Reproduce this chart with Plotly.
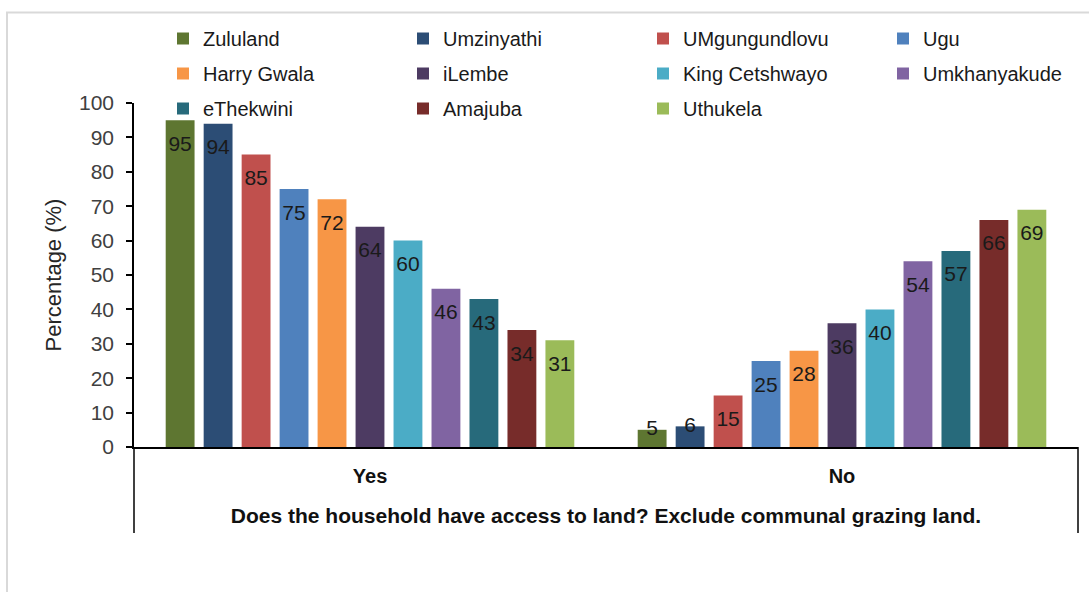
import plotly.graph_objects as go

# Survey answers (x categories)
answers = ["Yes", "No"]

# Districts in legend order
districts = [
    "Zululand", "Umzinyathi", "UMgungundlovu", "Ugu",
    "Harry Gwala", "iLembe", "King Cetshwayo", "Umkhanyakude",
    "eThekwini", "Amajuba", "Uthukela",
]

# Percentage answering Yes / No per district
yes_pct = [95, 94, 85, 75, 72, 64, 60, 46, 43, 34, 31]
no_pct = [5, 6, 15, 25, 28, 36, 40, 54, 57, 66, 69]

colors = [
    "#5E7631", "#2C4D75", "#C0504D", "#4F81BD",
    "#F79646", "#4D3B62", "#4BACC6", "#8064A2",
    "#276A7B", "#772C2A", "#9BBB59",
]

W, H = 1089, 592
L, R, T, B = 134, 11, 103, 145
PW, PH = W - L - R, H - T - B
BARGAP = 0.115


def px_x(x):
    return (x - L) / PW


def px_y(y):
    return (H - B - y) / PH


FONT = "Liberation Sans"
fig = go.Figure()

legend_names = ["legend", "legend2", "legend3", "legend4"]

for i, (name, col) in enumerate(zip(districts, colors)):
    vals = [yes_pct[i], no_pct[i]]
    fig.add_trace(go.Bar(
        x=answers,
        y=vals,
        name=name,
        marker=dict(color=col, line=dict(width=0)),
        legend=legend_names[i % 4],
        legendgroup=name,
        hoverinfo="x+y+name",
    ))

# Value labels: sit just inside the top of each bar, or on the top of short bars
for i, name in enumerate(districts):
    vals = [yes_pct[i], no_pct[i]]
    fig.add_trace(go.Scatter(
        x=answers,
        y=vals,
        mode="markers+text",
        marker=dict(size=22, opacity=0),
        text=[str(v) for v in vals],
        textposition=["bottom center" if v >= 10 else "middle center" for v in vals],
        textfont=dict(family=FONT, size=21, color="#1a1a1a"),
        showlegend=False,
        hoverinfo="skip",
        cliponaxis=False,
    ))

legend_cols_px = [163, 403, 643, 883]
legend_common = dict(
    orientation="v",
    yanchor="top",
    xanchor="left",
    y=px_y(19),
    font=dict(family=FONT, size=20, color="#1a1a1a"),
    bgcolor="rgba(0,0,0,0)",
    tracegroupgap=6,
    itemclick=False,
    itemdoubleclick=False,
)

layout_legends = {}
for k, ln in enumerate(legend_names):
    layout_legends[ln] = dict(legend_common, x=px_x(legend_cols_px[k]))

fig.update_layout(
    width=W,
    height=H,
    margin=dict(l=L, r=R, t=T, b=B),
    paper_bgcolor="white",
    plot_bgcolor="white",
    barmode="group",
    bargap=BARGAP,
    bargroupgap=0.24,
    scattermode="group",
    scattergap=BARGAP,
    showlegend=True,
    font=dict(family=FONT, color="#404040"),
    xaxis=dict(
        type="category",
        showline=True,
        linecolor="black",
        linewidth=1.5,
        ticks="",
        tickfont=dict(family=FONT, size=20, color="#111111", weight="bold"),
        ticklabelstandoff=10,
        title=dict(
            text="Does the household have access to land? Exclude communal grazing land.",
            font=dict(family=FONT, size=21, color="#111111", weight="bold"),
            standoff=23,
        ),
        showgrid=False,
        zeroline=False,
    ),
    yaxis=dict(
        range=[0, 100],
        dtick=10,
        showline=True,
        linecolor="black",
        linewidth=1.5,
        ticks="outside",
        ticklen=6,
        tickcolor="black",
        tickwidth=1.5,
        tickfont=dict(family=FONT, size=21, color="#404040"),
        ticklabelstandoff=8,
        title=dict(
            text="Percentage (%)",
            font=dict(family=FONT, size=22, color="#262626"),
            standoff=11,
        ),
        showgrid=False,
        zeroline=False,
    ),
    **layout_legends,
)

# Outer chart frame
fig.add_shape(
    type="rect", xref="paper", yref="paper",
    x0=px_x(7), x1=px_x(1110), y0=px_y(620), y1=px_y(12.5),
    line=dict(color="#d9d9d9", width=2), fillcolor="rgba(0,0,0,0)",
    layer="below",
)

# Side borders of the category label area below the axis
for xp in (L, W - R):
    fig.add_shape(
        type="line", xref="paper", yref="paper",
        x0=px_x(xp), x1=px_x(xp), y0=0, y1=px_y(533),
        line=dict(color="black", width=1.5),
    )

fig.write_html("out.html")
